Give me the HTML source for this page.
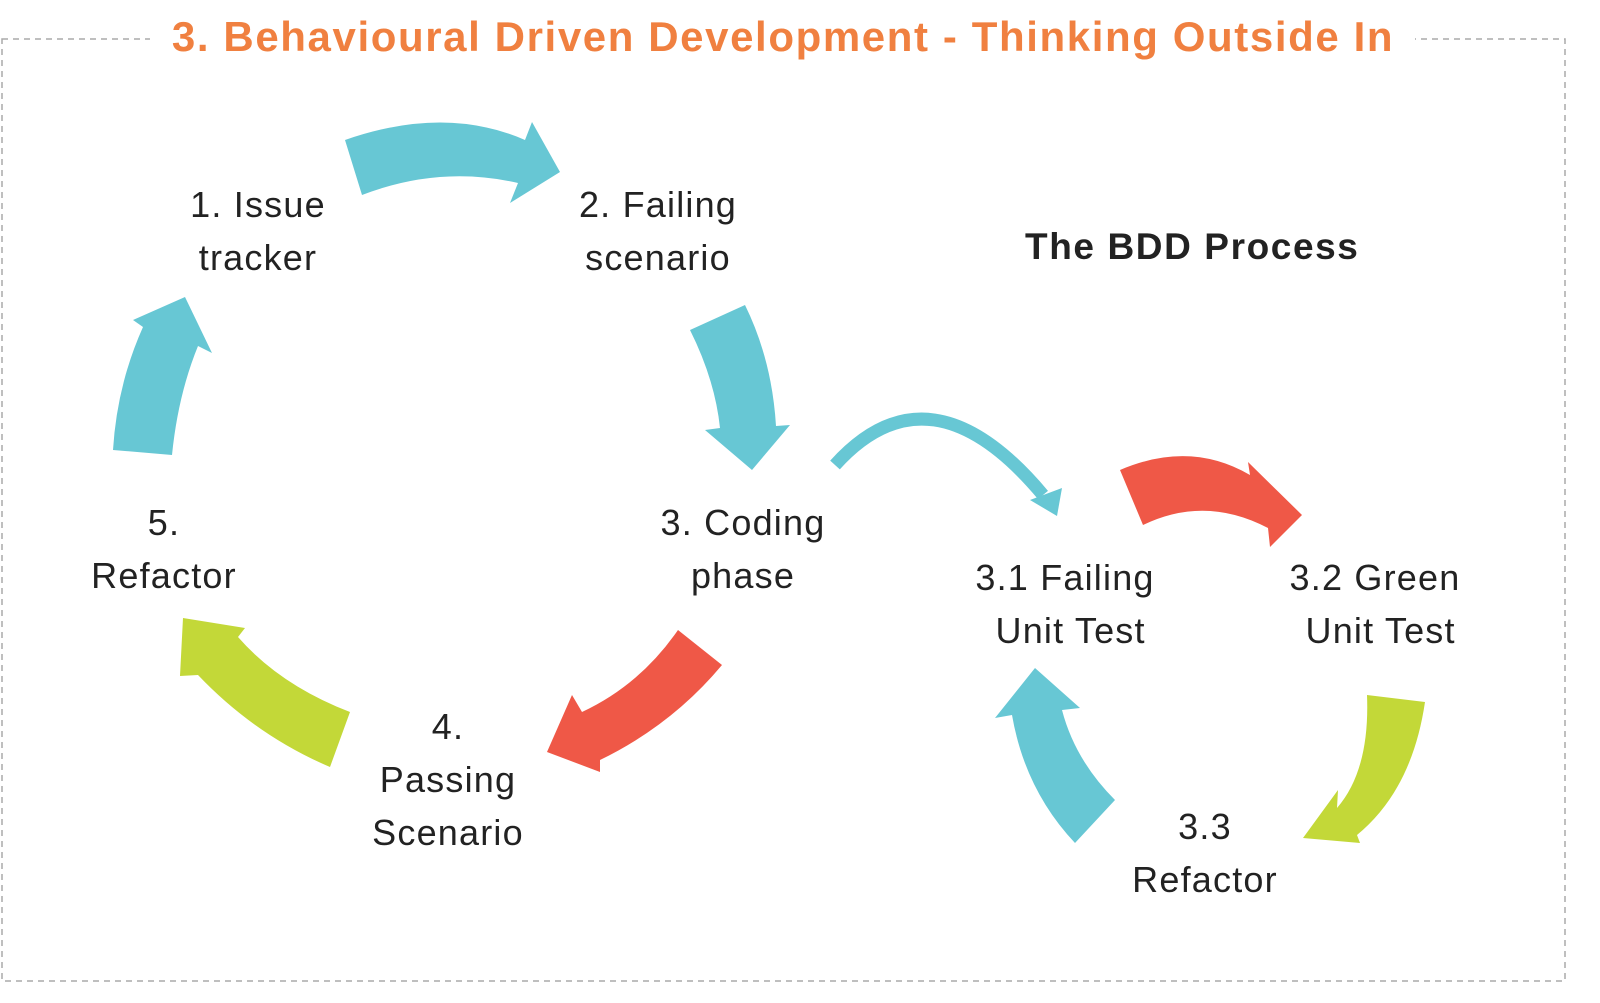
<!DOCTYPE html>
<html><head><meta charset="utf-8"><style>
html,body{margin:0;padding:0;background:#fff;}
body{width:1600px;height:1003px;overflow:hidden;position:relative;font-family:"Liberation Sans",sans-serif;}
.t{position:absolute;font-size:36px;color:#222;text-align:center;line-height:53px;letter-spacing:1.2px;}
</style></head><body>
<svg width="1600" height="1003" style="position:absolute;left:0;top:0">
<rect x="2" y="39" width="1563" height="942" fill="none" stroke="#aaa" stroke-width="1.5" stroke-dasharray="6,5"/>
<rect x="150" y="20" width="1265" height="40" fill="#fff"/>
<g fill="#67c7d4">
<path d="M345,140 Q445,105 525,140 L532,122 L560,172 L510,203 L518,183 Q440,165 362,195 Z"/>
<path d="M690,330 L745,305 Q772,360 776,426 L790,425 L752,470 L705,430 L720,428 Q715,380 690,330 Z"/>
<path d="M113,450 Q117,385 143,327 L133,320 L185,297 L212,353 L198,346 Q178,395 172,455 Z"/>
<path d="M1075,843 Q1025,790 1012,715 L995,718 L1035,668 L1080,708 L1062,710 Q1075,760 1115,800 Z"/>
<path d="M1030,500 L1062,488 L1057,516 Z"/>
</g>
<path d="M835,465 Q930,360 1043,495" fill="none" stroke="#67c7d4" stroke-width="13"/>
<g fill="#ef5847">
<path d="M678,630 L722,665 Q672,725 600,760 L600,772 L547,752 L572,695 L582,712 Q640,685 678,630 Z"/>
<path d="M1120,470 Q1190,440 1250,475 L1248,462 L1302,515 L1270,547 L1268,528 Q1205,495 1143,525 Z"/>
</g>
<g fill="#c3d838">
<path d="M350,712 L330,767 Q255,735 198,675 L180,676 L183,618 L245,628 L238,637 Q280,685 350,712 Z"/>
<path d="M1367,695 L1425,702 Q1412,790 1357,835 L1360,843 L1303,838 L1338,790 L1337,808 Q1370,770 1367,695 Z"/>
</g>
</svg>
<div style="position:absolute;left:0;width:1566px;top:13px;text-align:center;font-size:42px;font-weight:bold;color:#f08040;letter-spacing:1.6px;">3. Behavioural Driven Development - Thinking Outside In</div>
<div style="position:absolute;left:1025px;top:226px;font-size:37px;font-weight:bold;color:#222;letter-spacing:1.6px;">The BDD Process</div>
<div class="t" style="left:158px;width:200px;top:178px;">1. Issue<br>tracker</div>
<div class="t" style="left:558px;width:200px;top:178px;">2. Failing<br>scenario</div>
<div class="t" style="left:643px;width:200px;top:496px;">3. Coding<br>phase</div>
<div class="t" style="left:64px;width:200px;top:496px;">5.<br>Refactor</div>
<div class="t" style="left:348px;width:200px;top:700px;">4.<br>Passing<br>Scenario</div>
<div class="t" style="left:955px;width:220px;top:551px;">3.1 Failing<br>&nbsp;Unit Test</div>
<div class="t" style="left:1265px;width:220px;top:551px;">3.2 Green<br>&nbsp;Unit Test</div>
<div class="t" style="left:1105px;width:200px;top:800px;">3.3<br>Refactor</div>
</body></html>
